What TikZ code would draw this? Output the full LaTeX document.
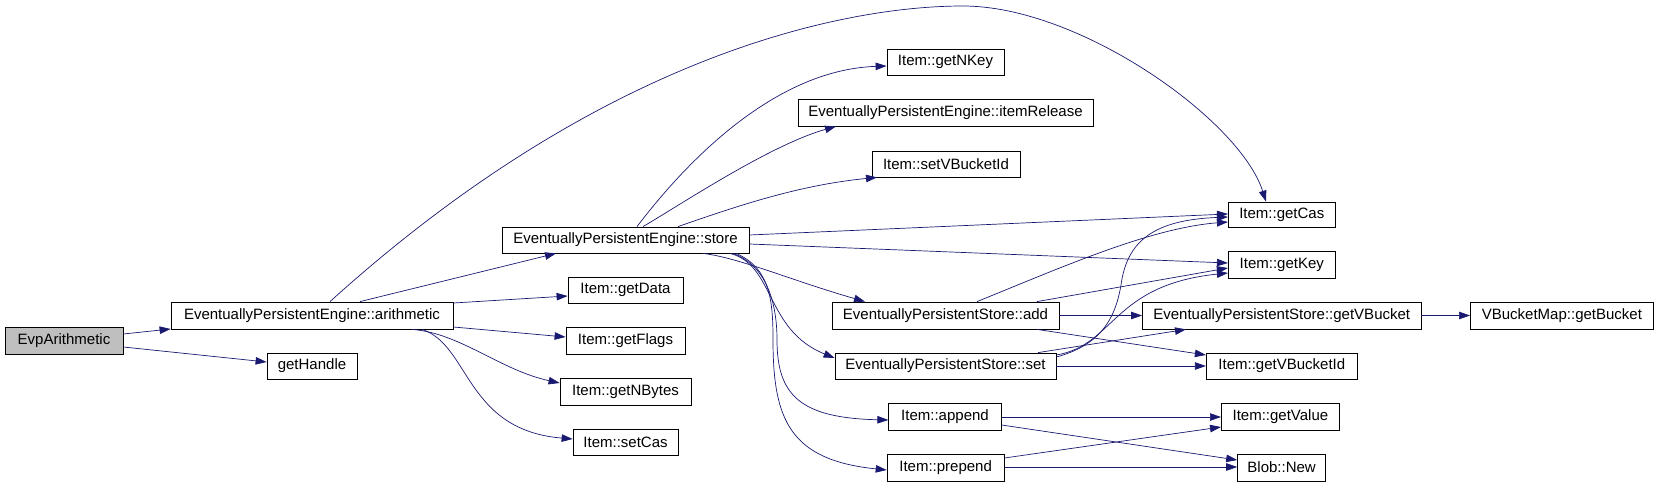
\documentclass[tikz,border=0pt]{standalone}
\usepackage{fontspec}
\setmainfont{Liberation Sans}
\usetikzlibrary{arrows.meta}
\definecolor{edgecol}{HTML}{191970}
\definecolor{rootfill}{HTML}{BFBFBF}
\begin{document}
\begin{tikzpicture}[x=1pt,y=-1pt,
  box/.style={draw=black, line width=0.8pt, fill=white, inner sep=0pt, font=\fontsize{15}{17}\selectfont},
  call/.style={draw=edgecol, line width=0.7pt, -{Triangle[length=11pt,width=7.5pt]}}]
\useasboundingbox (0,0) rectangle (1659,486);
% nodes
\node[box, fill=rootfill, minimum width=118pt, minimum height=27pt] (evp) at (64,340.5) {EvpArithmetic};
\node[box, minimum width=282pt, minimum height=27pt] (arith) at (312,315.5) {EventuallyPersistentEngine::arithmetic};
\node[box, minimum width=90pt, minimum height=26pt] (getHandle) at (312,366) {getHandle};
\node[box, minimum width=247pt, minimum height=26pt] (store) at (625.5,240) {EventuallyPersistentEngine::store};
\node[box, minimum width=115pt, minimum height=26pt] (getData) at (625.5,290) {Item::getData};
\node[box, minimum width=119pt, minimum height=27pt] (getFlags) at (625.5,340.5) {Item::getFlags};
\node[box, minimum width=131pt, minimum height=27pt] (getNBytes) at (625.5,391.5) {Item::getNBytes};
\node[box, minimum width=105pt, minimum height=26pt] (setCas) at (625.5,442) {Item::setCas};
\node[box, minimum width=117pt, minimum height=26pt] (getNKey) at (945.5,62) {Item::getNKey};
\node[box, minimum width=295pt, minimum height=27pt] (itemRelease) at (945.5,112.5) {EventuallyPersistentEngine::itemRelease};
\node[box, minimum width=148pt, minimum height=26pt] (setVBucketId) at (946,164) {Item::setVBucketId};
\node[box, minimum width=227pt, minimum height=27pt] (add) at (945.5,315.5) {EventuallyPersistentStore::add};
\node[box, minimum width=221pt, minimum height=26pt] (set) at (945.5,366) {EventuallyPersistentStore::set};
\node[box, minimum width=112.5pt, minimum height=27pt] (append) at (945,416.5) {Item::append};
\node[box, minimum width=117pt, minimum height=27pt] (prepend) at (945.6,467.5) {Item::prepend};
\node[box, minimum width=107pt, minimum height=25pt] (getCas) at (1281.8,214.5) {Item::getCas};
\node[box, minimum width=107pt, minimum height=27pt] (getKey) at (1281.8,264.5) {Item::getKey};
\node[box, minimum width=278.5pt, minimum height=27pt] (getVBucket) at (1281.7,315.5) {EventuallyPersistentStore::getVBucket};
\node[box, minimum width=183pt, minimum height=27pt] (getBucket) at (1561.9,315.5) {VBucketMap::getBucket};
\node[box, minimum width=151pt, minimum height=26pt] (getVBucketId) at (1281.8,366) {Item::getVBucketId};
\node[box, minimum width=118pt, minimum height=27pt] (getValue) at (1280.4,416.5) {Item::getValue};
\node[box, minimum width=88pt, minimum height=27pt] (blobNew) at (1281.6,467.5) {Blob::New};
% edges from EvpArithmetic
\draw[call] (evp.east |- 0,334) -- (arith.west |- 0,329);
\draw[call] (evp.east |- 0,347) -- (getHandle.west |- 0,362);
% edges from arithmetic
\draw[call] (arith.north -| 360,0) -- (store.south -| 556,0);
\draw[call] (arith.north -| 330,0) .. controls (608,50) and (850,6) .. (963,6)
  .. controls (1080,6) and (1240,120) .. (getCas.north -| 1266,0);
\draw[call] (arith.east |- 0,303) -- (getData.west |- 0,296);
\draw[call] (arith.east |- 0,327) -- (getFlags.west |- 0,337);
\draw[call] (arith.south -| 412,0) .. controls (460,333) and (500,370) .. (getNBytes.west |- 0,383);
\draw[call] (arith.south -| 422,0) .. controls (470,345) and (465,430) .. (setCas.west |- 0,439);
% edges from store
\draw[call] (store.north -| 637,0) .. controls (680,170) and (770,70) .. (getNKey.west |- 0,66);
\draw[call] (store.north -| 643,0) .. controls (680,205) and (770,145) .. (itemRelease.south -| 836,0);
\draw[call] (store.north -| 678,0) .. controls (740,205) and (800,185) .. (setVBucketId.south -| 877,0);
\draw[call] (store.east |- 0,235) -- (getCas.west |- 0,214);
\draw[call] (store.east |- 0,244) -- (getKey.west |- 0,263);
\draw[call] (store.south -| 703,0) .. controls (740,258) and (790,280) .. (add.north -| 865,0);
\draw[call] (store.south -| 730,0) .. controls (775,265) and (765,330) .. (set.west |- 0,358);
\draw[call] (store.south -| 733,0) .. controls (765,265) and (777,300) .. (777,340)
  .. controls (777,395) and (800,418) .. (append.west |- 0,420);
\draw[call] (store.south -| 736,0) .. controls (770,268) and (773,300) .. (773,340)
  .. controls (773,420) and (790,460) .. (prepend.west |- 0,470);
% edges from add
\draw[call] (add.north -| 977,0) .. controls (1060,268) and (1150,228) .. (getCas.west |- 0,222);
\draw[call] (add.north -| 1037,0) -- (getKey.west |- 0,268);
\draw[call] (add.east) -- (getVBucket.west);
\draw[call] (add.south -| 1037,0) -- (getVBucketId.west |- 0,355);
% edges from set
\draw[call] (set.east |- 0,357) .. controls (1100,345) and (1115,320) .. (1121,285)
  .. controls (1127,240) and (1155,220) .. (getCas.west |- 0,217);
\draw[call] (set.east |- 0,355) .. controls (1115,345) and (1112,285) .. (getKey.west |- 0,273);
\draw[call] (set.north -| 1038,0) -- (getVBucket.south -| 1186,0);
\draw[call] (set.east) -- (getVBucketId.west);
% others
\draw[call] (getVBucket.east) -- (getBucket.west);
\draw[call] (append.east |- 0,417) -- (getValue.west |- 0,417);
\draw[call] (append.east |- 0,425) -- (blobNew.west |- 0,460);
\draw[call] (prepend.east |- 0,458) -- (getValue.west |- 0,427);
\draw[call] (prepend.east |- 0,467) -- (blobNew.west |- 0,467);
\end{tikzpicture}
\end{document}
